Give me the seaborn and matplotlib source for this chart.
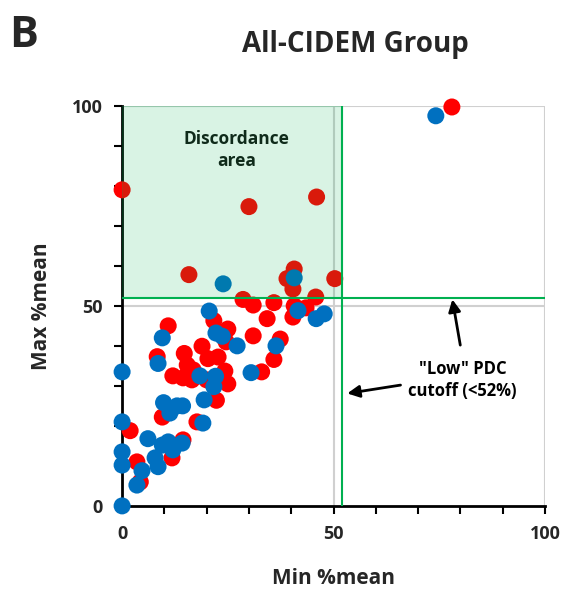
import pandas as pd
import seaborn as sns
import matplotlib.pyplot as plt
from matplotlib.patches import Rectangle
from matplotlib.ticker import MultipleLocator

# Red group (Min %mean, Max %mean)
red_min = [0, 30, 46, 78, 15.8, 40.7, 39, 40.4, 50.3, 28.6, 31, 35.9, 45.8, 34.3,
           40.4, 43.5, 40.7, 21.7, 25, 31, 37.4, 35.9, 33, 10.9, 8.3, 14.7, 18.9,
           20.3, 22.7, 24.6, 12, 15.4, 16.8, 14.4, 16.5, 20, 24.3, 25, 22.3, 17.7,
           9.5, 1.9, 3.5, 4.3, 11.8, 14.4]
red_max = [79, 74.8, 77.2, 99.7, 57.8, 59.2, 56.8, 54.2, 56.8, 51.6, 50.2, 50.8, 52.2, 46.8,
           47.2, 49.5, 50, 46.3, 44.2, 42.5, 41.7, 36.6, 33.5, 45, 37.3, 38.1, 39.9,
           36.8, 37.2, 41, 32.5, 35.2, 34, 32, 31.5, 31.5, 33.7, 30.5, 26.4, 21,
           22.2, 18.8, 11, 6, 12, 16.5]

# Blue group
blue_min = [0, 0, 0, 0, 0, 74.2, 23.9, 40.7, 20.6, 22.2, 23.7, 27.2, 36.4, 41.6,
            45.9, 47.8, 9.5, 8.5, 18.4, 22.1, 21.7, 30.5, 9.8, 13, 14.3, 11.3,
            19.4, 19.1, 6.1, 4.7, 3.5, 7.8, 8.5, 9.5, 10.9, 12, 14.2]
blue_max = [0, 33.5, 21, 13.5, 10.2, 97.5, 55.5, 57, 48.7, 43.2, 42.4, 40, 40, 48.8,
            46.8, 48, 42, 35.6, 32.5, 32.4, 29.8, 33.3, 25.8, 25, 25, 23.2,
            26.5, 20.7, 16.8, 8.8, 5.2, 12, 9.8, 15.2, 16, 14, 15.7]

cutoff = 52

df = pd.concat([
    pd.DataFrame({'Min': red_min, 'Max': red_max, 'grp': 'red'}),
    pd.DataFrame({'Min': blue_min, 'Max': blue_max, 'grp': 'blue'}),
], ignore_index=True)

sns.set_style("ticks")
plt.rcParams['font.family'] = ['Open Sans', 'DejaVu Sans']

fig = plt.figure(figsize=(5.76, 5.91), dpi=100)
ax = fig.add_axes([0.212, 0.144, 0.734, 0.677])

sns.scatterplot(data=df, x='Min', y='Max', hue='grp',
                palette={'red': '#FF0000', 'blue': '#0070C0'},
                s=150, linewidth=0, legend=False, clip_on=False, zorder=3, ax=ax)

ax.set_xlim(0, 100)
ax.set_ylim(0, 100)

# gridlines at 50 and 100
for v in [50, 100]:
    ax.axvline(v, color='#D0D0D0', lw=1.5, zorder=1)
    ax.axhline(v, color='#D0D0D0', lw=1.5, zorder=1)

# discordance area
ax.add_patch(Rectangle((0, cutoff), cutoff, 100 - cutoff, facecolor='#00B050',
                       alpha=0.15, edgecolor='#00B050', lw=1.5, zorder=4))
ax.axhline(cutoff, color='#00B050', lw=1.5, zorder=5)
ax.axvline(cutoff, color='#00B050', lw=1.5, zorder=5)

ax.text(27, 89, 'Discordance\narea', ha='center', va='center',
        fontsize=12.5, fontweight='bold', color='#0F2A1A', zorder=6,
        linespacing=1.3)
ax.text(80.5, 31.5, '"Low" PDC\ncutoff (<52%)', ha='center', va='center',
        fontsize=12, fontweight='bold', color='black', zorder=6,
        linespacing=1.3)

arrow = dict(arrowstyle='-|>', color='black', lw=2, mutation_scale=18)
ax.annotate('', xy=(52.6, 28), xytext=(66.5, 30.3), arrowprops=arrow, zorder=6)
ax.annotate('', xy=(78, 52.3), xytext=(80.1, 39.5), arrowprops=arrow, zorder=6)

# axes styling
for s in ['top', 'right']:
    ax.spines[s].set_visible(False)
for s in ['left', 'bottom']:
    ax.spines[s].set_color('black')
    ax.spines[s].set_linewidth(2)
    ax.spines[s].set_zorder(2)

ax.xaxis.set_major_locator(MultipleLocator(50))
ax.yaxis.set_major_locator(MultipleLocator(50))
ax.xaxis.set_minor_locator(MultipleLocator(10))
ax.yaxis.set_minor_locator(MultipleLocator(10))
ax.tick_params(which='both', direction='out', length=6, width=1.5, color='black',
               bottom=True, left=True, top=False, right=False)
ax.tick_params(axis='both', which='major', labelsize=13, pad=8)
for lab in ax.get_xticklabels() + ax.get_yticklabels():
    lab.set_fontweight('bold')

ax.set_xlabel('Min %mean', fontsize=15, fontweight='bold', labelpad=18)
ax.set_ylabel('Max %mean', fontsize=15, fontweight='bold', labelpad=14)

fig.text(0.617, 0.925, 'All-CIDEM Group', ha='center', va='center',
         fontsize=20, fontweight='bold')
fig.text(0.015, 0.94, 'B', ha='left', va='center', fontsize=31, fontweight='bold')

plt.savefig('out.png', dpi=100)
